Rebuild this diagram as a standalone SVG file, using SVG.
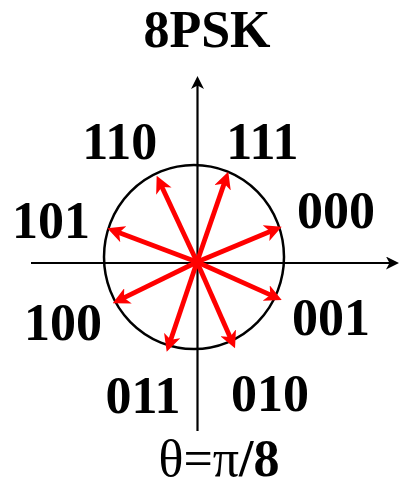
<svg xmlns="http://www.w3.org/2000/svg" width="400" height="487" viewBox="0 0 400 487">
<style>
.lbl{font-family:"Liberation Serif","Times New Roman",serif;font-weight:bold;font-size:52px;fill:#000;text-anchor:middle}
.axis{stroke:#000;stroke-width:2.2;fill:none}
.vec{stroke:#ff0000;stroke-width:4.8;fill:none}
</style>
<defs>
<marker id="ah" markerUnits="userSpaceOnUse" viewBox="-17 -8.5 17 17" markerWidth="17" markerHeight="17" refX="-10" refY="0" orient="auto">
<path d="M0,0 L-17,-8.5 L-12.5,0 L-17,8.5 Z" fill="#ff0000"/>
</marker>
<marker id="bh" markerUnits="userSpaceOnUse" viewBox="-13 -6.5 13 13" markerWidth="13" markerHeight="13" refX="-8" refY="0" orient="auto">
<path d="M0,0 L-13,-6.5 L-9.5,0 L-13,6.5 Z" fill="#000"/>
</marker>
</defs>
<g id="circle"><ellipse cx="194" cy="257" rx="90" ry="92" fill="none" stroke="#000" stroke-width="2.5"/></g>
<g id="axes">
<line class="axis" x1="31" y1="263" x2="391" y2="263" marker-end="url(#bh)"/>
<line class="axis" x1="197.5" y1="431" x2="197.5" y2="84" marker-end="url(#bh)"/>
</g>
<g id="connectors">
<line class="vec" x1="197" y1="262" x2="225.0" y2="181.1" marker-end="url(#ah)"/>
<line class="vec" x1="197" y1="262" x2="160.9" y2="184.8" marker-end="url(#ah)"/>
<line class="vec" x1="197" y1="262" x2="272.5" y2="230.5" marker-end="url(#ah)"/>
<line class="vec" x1="197" y1="262" x2="116.7" y2="231.8" marker-end="url(#ah)"/>
<line class="vec" x1="197" y1="262" x2="272.6" y2="295.9" marker-end="url(#ah)"/>
<line class="vec" x1="197" y1="262" x2="121.7" y2="298.9" marker-end="url(#ah)"/>
<line class="vec" x1="197" y1="262" x2="169.9" y2="342.2" marker-end="url(#ah)"/>
<line class="vec" x1="197" y1="262" x2="231.0" y2="339.2" marker-end="url(#ah)"/>
</g>
<g id="title"><text class="lbl" x="207" y="47">8PSK</text></g>
<g id="n111"><text class="lbl" x="262.5" y="159">111</text></g>
<g id="n110"><text class="lbl" x="119.7" y="159">110</text></g>
<g id="n000"><text class="lbl" x="336" y="228">000</text></g>
<g id="n101"><text class="lbl" x="51" y="238">101</text></g>
<g id="n001"><text class="lbl" x="331" y="335">001</text></g>
<g id="n100"><text class="lbl" x="63" y="340">100</text></g>
<g id="n011"><text class="lbl" x="143" y="413">011</text></g>
<g id="n010"><text class="lbl" x="270" y="411">010</text></g>
<g id="caption"><text class="lbl" x="219" y="476" font-size="50"><tspan font-weight="normal">θ=π</tspan>/8</text></g>
</svg>
